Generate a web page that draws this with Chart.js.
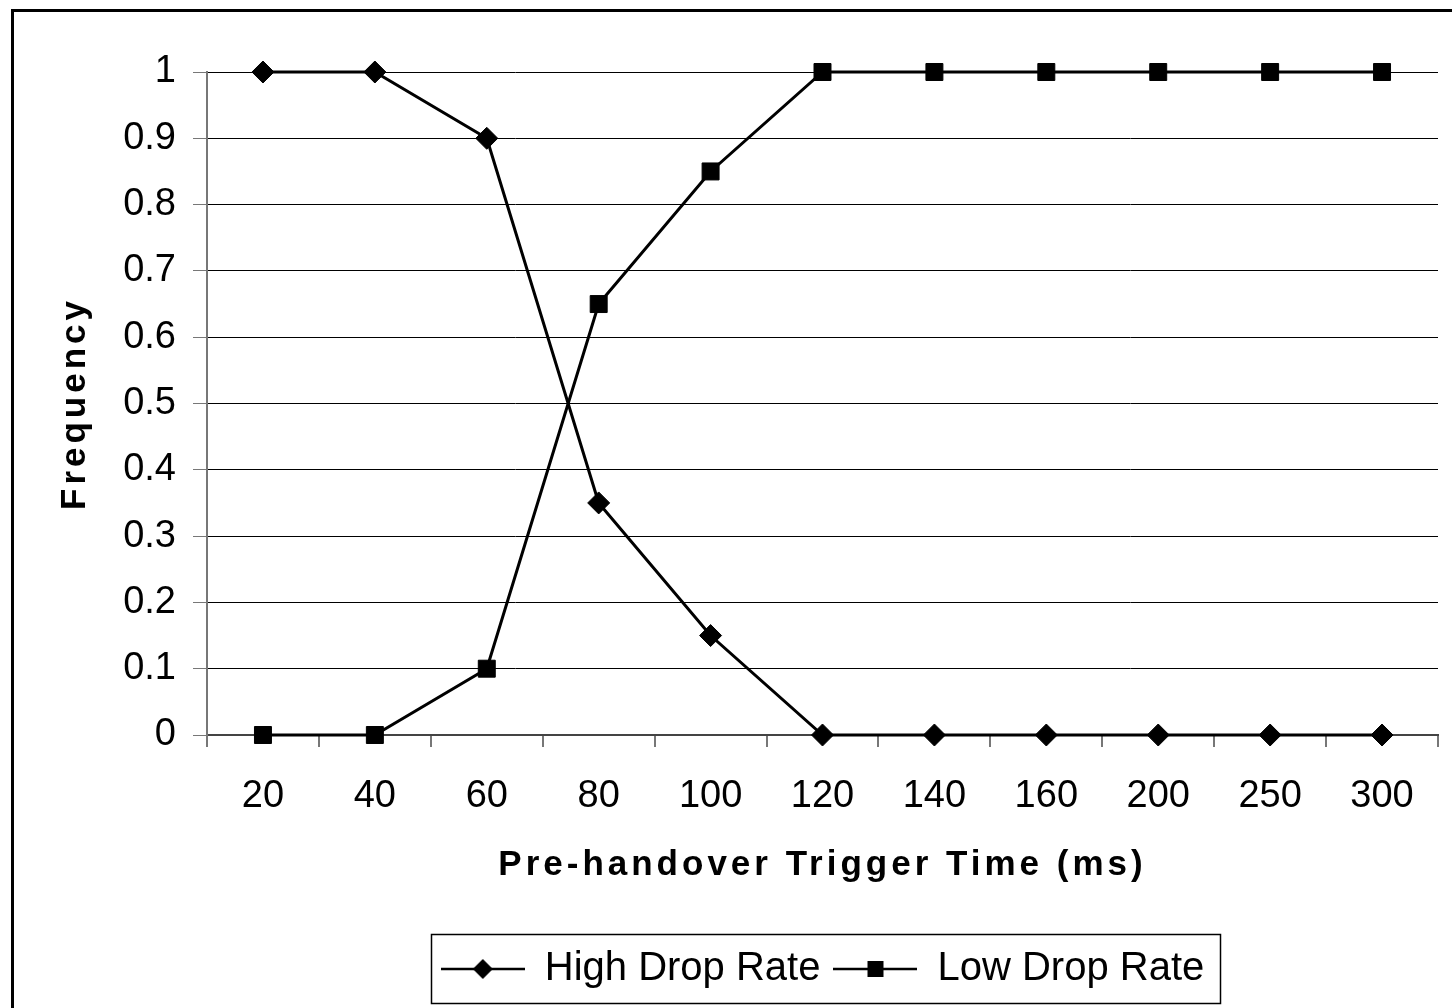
<!DOCTYPE html>
<html lang="en">
<head>
    <meta charset="UTF-8">
    <title>Pre-handover Trigger Time vs Frequency</title>
    <script src="https://cdn.jsdelivr.net/npm/chart.js"></script>
    <style>
        html, body {
            margin: 0;
            padding: 0;
            background: #fff;
            overflow: hidden;
        }
        #wrap {
            position: relative;
            width: 1452px;
            height: 1008px;
        }
        #frame {
            position: absolute;
            left: 11px;
            top: 9px;
            width: 1460px;
            height: 1020px;
            border-left: 3px solid #000;
            border-top: 3px solid #000;
            pointer-events: none;
        }
    </style>
</head>
<body>
    <div id="wrap">
        <canvas id="myChart" width="1452" height="1008"></canvas>
        <div id="frame"></div>
    </div>
    <script>
        const triggerTimes = ['20', '40', '60', '80', '100', '120', '140', '160', '200', '250', '300'];
        const highDropRate = [1, 1, 0.9, 0.35, 0.15, 0, 0, 0, 0, 0, 0];
        const lowDropRate = [0, 0, 0.1, 0.65, 0.85, 1, 1, 1, 1, 1, 1];
        const yTicks = [0, 0.1, 0.2, 0.3, 0.4, 0.5, 0.6, 0.7, 0.8, 0.9, 1];

        const FONT = "'Liberation Sans', Arial, sans-serif";

        // legend icon: short line with the marker in the middle
        function legendIcon(kind) {
            const c = document.createElement('canvas');
            c.width = 84;
            c.height = 24;
            const g = c.getContext('2d');
            g.strokeStyle = '#000';
            g.lineWidth = 2.5;
            g.beginPath();
            g.moveTo(0, 12);
            g.lineTo(84, 12);
            g.stroke();
            g.fillStyle = '#000';
            g.beginPath();
            if (kind === 'diamond') {
                g.moveTo(42, 2);
                g.lineTo(52, 12);
                g.lineTo(42, 22);
                g.lineTo(32, 12);
                g.closePath();
            } else {
                g.rect(34, 4, 16, 16);
            }
            g.fill();
            return c;
        }

        // bold axis titles are spaced out in the original
        const spacedTitles = {
            id: 'spacedTitles',
            beforeDraw(chart) {
                ['x', 'y'].forEach((id) => {
                    const scale = chart.scales[id];
                    if (scale && !scale._spaced) {
                        const orig = scale.drawTitle;
                        scale.drawTitle = function () {
                            const ctx = this.ctx;
                            ctx.save();
                            ctx.letterSpacing = '4px';
                            orig.call(this);
                            ctx.restore();
                        };
                        scale._spaced = true;
                    }
                });
            }
        };

        // box around the legend
        const legendBox = {
            id: 'legendBox',
            afterDraw(chart) {
                const legend = chart.legend;
                if (!legend || !legend.legendHitBoxes || !legend.legendHitBoxes.length) return;
                const boxes = legend.legendHitBoxes;
                let minX = Infinity, maxX = -Infinity, minY = Infinity, maxY = -Infinity;
                boxes.forEach((b) => {
                    minX = Math.min(minX, b.left);
                    maxX = Math.max(maxX, b.left + b.width);
                    minY = Math.min(minY, b.top);
                    maxY = Math.max(maxY, b.top + b.height);
                });
                const ctx = chart.ctx;
                ctx.save();
                ctx.strokeStyle = '#000';
                ctx.lineWidth = 1.5;
                ctx.strokeRect(Math.round(minX - 10) + 0.5, Math.round(minY - 15) + 0.5,
                    Math.round(maxX - minX + 26), Math.round(maxY - minY + 29));
                ctx.restore();
            }
        };

        const data = {
            labels: triggerTimes,
            datasets: [
                {
                    label: 'High Drop Rate',
                    data: highDropRate,
                    borderColor: '#000',
                    backgroundColor: '#000',
                    borderWidth: 3,
                    pointStyle: 'rectRot',
                    pointRadius: 11,
                    pointBorderWidth: 1,
                    tension: 0,
                    clip: false
                },
                {
                    label: 'Low Drop Rate',
                    data: lowDropRate,
                    borderColor: '#000',
                    backgroundColor: '#000',
                    borderWidth: 3,
                    pointStyle: 'rect',
                    pointRadius: 12,
                    pointBorderWidth: 1,
                    tension: 0,
                    clip: false
                }
            ]
        };

        const icons = [legendIcon('diamond'), legendIcon('square')];

        const config = {
            type: 'line',
            data: data,
            options: {
                responsive: false,
                animation: false,
                layout: {
                    padding: { top: 72, right: 14, bottom: 9, left: 0 }
                },
                plugins: {
                    tooltip: { enabled: false },
                    legend: {
                        position: 'bottom',
                        fullSize: false,
                        labels: {
                            color: '#000',
                            font: { family: FONT, size: 40 },
                            usePointStyle: true,
                            pointStyleWidth: 84,
                            padding: 13,
                            generateLabels: (chart) => chart.data.datasets.map((ds, i) => ({
                                text: ds.label,
                                pointStyle: icons[i],
                                fillStyle: '#000',
                                strokeStyle: '#000',
                                lineWidth: 0,
                                datasetIndex: i,
                                hidden: false
                            }))
                        }
                    }
                },
                scales: {
                    x: {
                        type: 'category',
                        offset: true,
                        afterFit: (scale) => { scale.height = 201; },
                        grid: {
                            offset: true,
                            drawOnChartArea: false,
                            drawTicks: true,
                            tickLength: 12,
                            color: '#777',
                            lineWidth: 2
                        },
                        border: { color: '#444', width: 2 },
                        ticks: {
                            color: '#000',
                            font: { family: FONT, size: 38 },
                            padding: 27,
                            maxRotation: 0,
                            autoSkip: false
                        },
                        title: {
                            display: true,
                            text: 'Pre-handover Trigger Time (ms)',
                            color: '#000',
                            font: { family: FONT, size: 35, weight: 'bold' },
                            padding: { top: 0, bottom: 50 }
                        }
                    },
                    y: {
                        min: 0,
                        max: 1,
                        afterFit: (scale) => { scale.width = 207; },
                        afterBuildTicks: (scale) => {
                            scale.ticks = yTicks.map((v) => ({ value: v }));
                        },
                        grid: {
                            color: '#000',
                            lineWidth: 1,
                            drawTicks: true,
                            tickLength: 14,
                            tickColor: '#777'
                        },
                        border: { color: '#777', width: 2 },
                        ticks: {
                            color: '#000',
                            font: { family: FONT, size: 38 },
                            padding: 17,
                            callback: (v) => String(v)
                        },
                        title: {
                            display: true,
                            text: 'Frequency',
                            color: '#000',
                            font: { family: FONT, size: 35, weight: 'bold' },
                            padding: { top: 54, bottom: 0 }
                        }
                    }
                }
            },
            plugins: [spacedTitles, legendBox]
        };

        const ctx = document.getElementById('myChart').getContext('2d');
        const myChart = new Chart(ctx, config);
    </script>
</body>
</html>
